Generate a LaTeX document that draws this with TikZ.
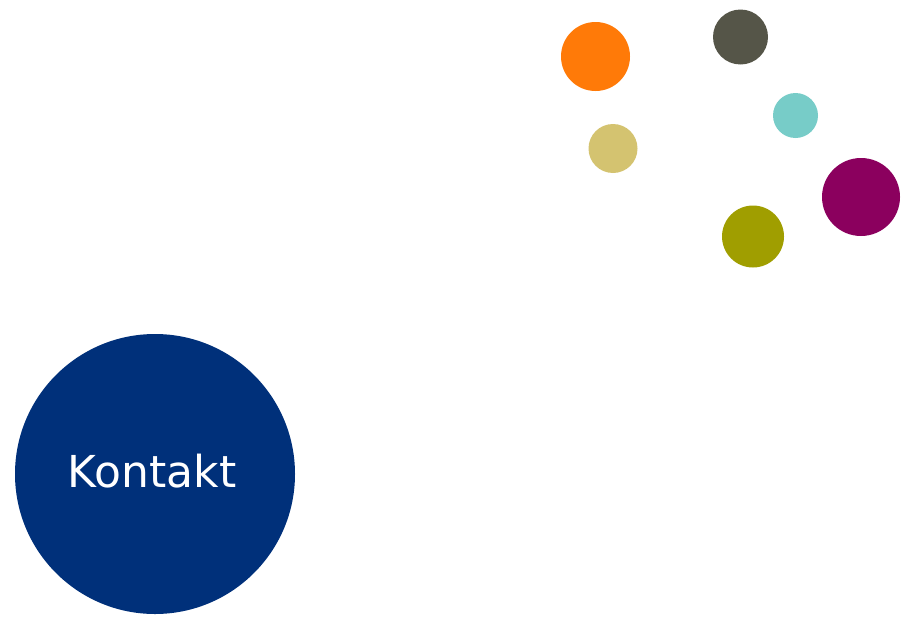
\documentclass[tikz,border=0pt]{standalone}
\usepackage{fontspec}
\setmainfont{DejaVu Sans}
\usepackage{xcolor}
\definecolor{kblue}{HTML}{00307A}
\definecolor{korange}{HTML}{FF7A08}
\definecolor{kgrey}{HTML}{555548}
\definecolor{kcyan}{HTML}{77CCC8}
\definecolor{ktan}{HTML}{D4C370}
\definecolor{kpurple}{HTML}{8B005E}
\definecolor{kolive}{HTML}{A09E00}
\tikzset{dot/.style={circle,inner sep=0pt,draw=none}}

\begin{document}
\begin{tikzpicture}[x=0.75pt,y=-0.75pt]
      \useasboundingbox (0,0) rectangle (920,628);
      \node[dot,fill=kblue,minimum size=210pt] (K) at (155,474) {};
      \node[dot,fill=korange,minimum size=51.75pt] (O) at (595.5,56.5) {};
      \node[dot,fill=kgrey,minimum size=41.25pt] (G) at (740.5,37) {};
      \node[dot,fill=kcyan,minimum size=33.75pt] (C) at (795.5,115.5) {};
      \node[dot,fill=ktan,minimum size=36.75pt] (T) at (613,148.5) {};
      \node[dot,fill=kpurple,minimum size=58.5pt] (P) at (861,197) {};
      \node[dot,fill=kolive,minimum size=46.5pt] (L) at (753,236.5) {};
        % Label
      \node[anchor=base,inner sep=0pt,text=white,font=\fontsize{33}{40}\selectfont] (Kl) at (152,487) {Kontakt};
    \end{tikzpicture}
\end{document}
